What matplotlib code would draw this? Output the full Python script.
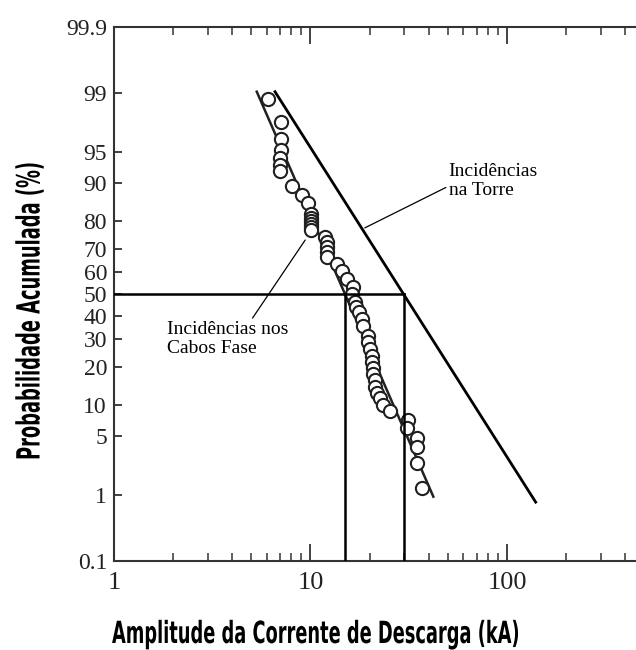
#!/usr/bin/env python3

from statistics import NormalDist

import matplotlib

matplotlib.use("Agg")
import matplotlib.pyplot as plt
import numpy as np
from matplotlib import font_manager as fm
from matplotlib.patheffects import AbstractPathEffect
from matplotlib.ticker import FixedLocator, LogLocator, NullFormatter, NullLocator
from matplotlib.transforms import Affine2D

# descargas nos cabos fase (kA, % acumulada)
cabos_ka = [6.1, 7.1, 7.1, 7.1, 7.0, 7.0, 7.0, 8.1, 9.1, 9.7,
            10.1, 10.1, 10.1, 10.1, 10.1, 10.1, 11.8, 12.1, 12.1, 12.2,
            12.2, 13.6, 14.4, 15.3, 16.4, 16.3, 16.8, 17.1, 17.7, 18.2,
            18.5, 19.6, 19.6, 20.0, 20.5, 20.5, 20.7, 20.7, 21.2, 21.4,
            21.9, 22.5, 23.3, 25.3, 31.2, 30.9, 34.7, 35.0, 35.0, 36.8]
cabos_pct = [98.8, 97.7, 96.4, 95.2, 94.2, 93.2, 92.2, 89.5, 87.3, 85.5,
             82.4, 81.1, 80.2, 79.2, 78.2, 77.2, 74.6, 72.7, 70.8, 68.7,
             66.7, 63.6, 60.5, 56.9, 53.2, 50.0, 46.3, 44.0, 41.7, 38.6,
             35.5, 31.3, 28.8, 26.1, 23.5, 21.5, 19.5, 17.6, 15.9, 14.2,
             12.7, 11.5, 10.0, 8.7, 7.3, 6.1, 4.8, 3.8, 2.5, 1.24]

# retas ajustadas
cabos_fit_ka = [5.33, 42.2]
cabos_fit_pct = [99.04, 0.95]
torre_ka = [6.6, 140.0]
torre_pct = [99.04, 0.80]

mediana_cabos = 15
mediana_torre = 30
p50 = 50

y_ticks = [0.1, 1, 5, 10, 20, 30, 40, 50, 60, 70, 80, 90, 95, 99, 99.9]
y_labels = ["0.1", "1", "5", "10", "20", "30", "40", "50", "60", "70",
            "80", "90", "95", "99", "99.9"]
x_ticks = [1, 10, 100]
x_labels = ["1", "10", "100"]

nd = NormalDist()


def prob_fwd(p):
    p = np.asarray(p, dtype=float)
    out = np.full(p.shape, np.nan)
    ok = (p > 0) & (p < 100)
    out[ok] = [nd.inv_cdf(v / 100) for v in p[ok]]
    return out


def prob_inv(z):
    z = np.asarray(z, dtype=float)
    return np.array([nd.cdf(v) * 100 for v in z.ravel()]).reshape(z.shape)


class Squeeze(AbstractPathEffect):
    # scale glyph outlines about a fixed display point
    def __init__(self, sx=1.0, sy=1.0, center=(0.0, 0.0)):
        super().__init__()
        self.sx, self.sy, self.center = sx, sy, center

    def draw_path(self, renderer, gc, tpath, affine, rgbFace=None):
        cx, cy = self.center
        t = affine + Affine2D().translate(-cx, -cy).scale(self.sx, self.sy).translate(cx, cy)
        renderer.draw_path(gc, tpath, t, rgbFace)


def narrow_bold_font():
    # look for the most condensed bold sans installed
    rank = {"ultra-condensed": 0, "extra-condensed": 1, "condensed": 2,
            "semi-condensed": 3}
    best = None
    for f in fm.fontManager.ttflist:
        name = f.name.lower()
        st = f.stretch if isinstance(f.stretch, str) else "normal"
        r = rank.get(st, 9)
        if "narrow" in name:
            r = min(r, 2)
        try:
            w = int(f.weight)
        except (TypeError, ValueError):
            w = 700 if "bold" in str(f.weight) else 400
        if r == 9 or w < 600 or "mono" in name or "serif" in name:
            continue
        key = (r, abs(w - 700))
        if best is None or key < best[0]:
            best = (key, f.fname)
    if best is None:
        return fm.FontProperties(family="DejaVu Sans", weight="bold")
    return fm.FontProperties(fname=best[1])


def squeeze_to(fig, txt, target_px):
    r = fig.canvas.get_renderer()
    bb = txt.get_window_extent(renderer=r)
    c = ((bb.x0 + bb.x1) / 2, (bb.y0 + bb.y1) / 2)
    if txt.get_rotation():
        txt.set_path_effects([Squeeze(1.0, target_px / bb.height, c)])
    else:
        txt.set_path_effects([Squeeze(target_px / bb.width, 1.0, c)])


def main():
    serif = "Liberation Serif"

    fig = plt.figure(figsize=(6.36, 6.5), dpi=100, facecolor="white")
    ax = fig.add_axes([0.1792, 0.1369, 0.9269, 0.8215])

    ax.set_xscale("log")
    ax.set_yscale("function", functions=(prob_fwd, prob_inv))
    ax.set_xlim(1, 1000)
    ax.set_ylim(0.1, 99.9)

    ax.plot(cabos_fit_ka, cabos_fit_pct, color="#222222", lw=1.8, zorder=2)
    ax.plot(cabos_ka, cabos_pct, "o", ms=9.5, mfc="white", mec="#202020", mew=1.5, zorder=3)
    ax.plot(torre_ka, torre_pct, color="black", lw=2.0, zorder=4)

    ax.plot([1, mediana_torre], [p50, p50], color="black", lw=1.8, zorder=4)
    ax.plot([mediana_cabos, mediana_cabos], [0.1, p50], color="black", lw=1.8, zorder=4)
    ax.plot([mediana_torre, mediana_torre], [0.1, p50], color="black", lw=1.8, zorder=4)

    ax.annotate("Incidências\nna Torre", xy=(18.9, 77.8), xytext=(50.5, 93.6),
                ha="left", va="top", fontsize=14, family=serif,
                arrowprops=dict(arrowstyle="-", lw=0.9, color="black",
                                shrinkA=0, shrinkB=0, relpos=(-0.03, 0.32)))
    ax.annotate("Incidências nos\nCabos Fase", xy=(9.4, 73.4), xytext=(1.86, 37.8),
                ha="left", va="top", fontsize=14, family=serif,
                arrowprops=dict(arrowstyle="-", lw=0.9, color="black",
                                shrinkA=0, shrinkB=0, relpos=(0.7, 1.05)))

    ax.xaxis.set_major_locator(FixedLocator(x_ticks))
    ax.set_xticklabels(x_labels)
    ax.xaxis.set_minor_locator(LogLocator(base=10, subs=np.arange(2, 10)))
    ax.xaxis.set_minor_formatter(NullFormatter())
    ax.yaxis.set_major_locator(FixedLocator(y_ticks))
    ax.set_yticklabels(y_labels)
    ax.yaxis.set_minor_locator(NullLocator())

    ax.tick_params(axis="x", which="major", direction="in", top=True, bottom=True,
                   length=12, width=1.3, pad=8, labelsize=19, color="#333333")
    ax.tick_params(axis="x", which="minor", direction="in", top=True, bottom=True,
                   length=6, width=1.1, color="#333333")
    ax.tick_params(axis="y", which="major", direction="in", left=True, right=False,
                   length=6, width=1.3, pad=5, labelsize=17, color="#333333")
    for lab in ax.get_xticklabels() + ax.get_yticklabels():
        lab.set_family(serif)
        lab.set_color("#222222")

    for side in ["left", "bottom", "top"]:
        ax.spines[side].set_linewidth(1.5)
        ax.spines[side].set_color("#333333")
    ax.spines["right"].set_visible(False)

    fp = narrow_bold_font()
    xl = fig.text(315 / 636, 1 - 643 / 650, "Amplitude da Corrente de Descarga (kA)",
                  ha="center", va="baseline", fontproperties=fp, fontsize=22)
    yl = fig.text(31 / 636, 1 - 311 / 650, "Probabilidade Acumulada (%)",
                  ha="center", va="center", rotation=90, fontproperties=fp, fontsize=23)
    squeeze_to(fig, xl, 406)
    squeeze_to(fig, yl, 298)

    fig.savefig("out.png", dpi=100, facecolor="white")


if __name__ == "__main__":
    main()
